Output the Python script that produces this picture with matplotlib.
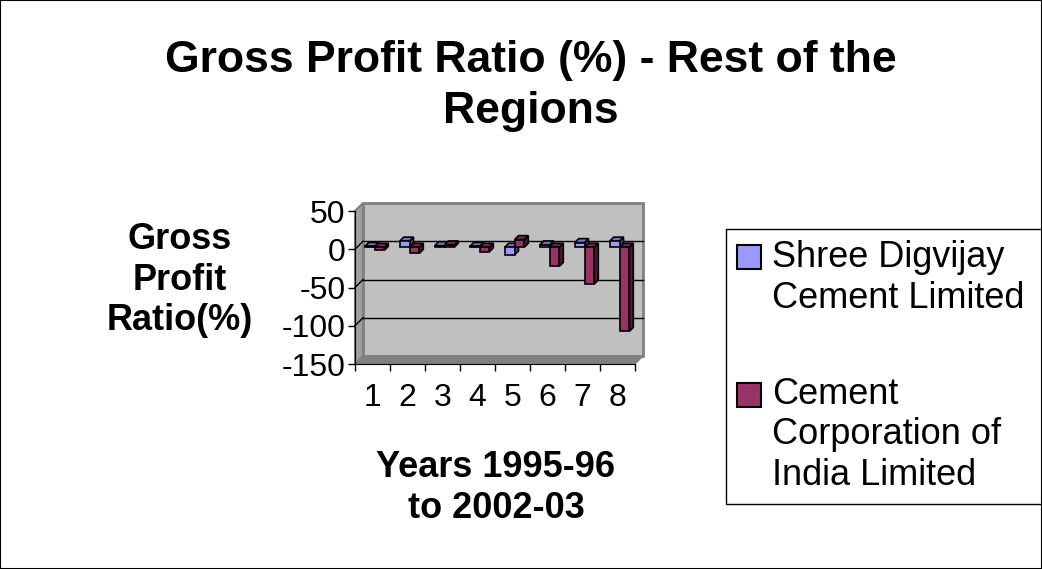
import matplotlib
matplotlib.use("Agg")
from matplotlib import pyplot as plt
from matplotlib.patches import Rectangle, Polygon
import numpy as np

plt.rcParams['font.family'] = ['Liberation Sans', 'DejaVu Sans']
plt.rcParams['axes.unicode_minus'] = False

years = [1, 2, 3, 4, 5, 6, 7, 8]
shree = [1, 8, 2, 1, -10, 3, 6, 8]
cci = [-4, -8, 3, -6, 10, -25, -48, -110]
names = ["Shree Digvijay\nCement Limited", "Cement\nCorporation of\nIndia Limited"]
colors = ["#9999ff", "#993366"]
sides = ["#4d4d80", "#4d1a33"]
tops = ["#7373bf", "#73264d"]

W, H = 1042, 569
fig = plt.figure(figsize=(W / 100, H / 100), dpi=100)
fig.patches.append(Rectangle((0, 0), 1, 1, transform=fig.transFigure,
                             fill=False, edgecolor="black", linewidth=1.5))

# 绘图区 (前面)
ax = fig.add_axes([355 / W, 1 - 364 / H, 280 / W, 153 / H])
ax.set_xlim(0.5, 8.5)
ax.set_ylim(-150, 50)
ax.patch.set_alpha(0)

# 像素 -> 数据单位
px_x = 8 / 280
px_y = 200 / 153
dxw, dyw = 8 * px_x, 8 * px_y  # 后墙偏移

# 后墙、侧墙、底面
x0, x1, y0, y1 = 0.5, 8.5, -150, 50
ax.add_patch(Polygon([(x0, y0), (x0 + dxw, y0 + dyw), (x0 + dxw, y1 + dyw), (x0, y1)],
                     closed=True, facecolor="#a0a0a0", edgecolor="#808080", lw=1.5,
                     clip_on=False, zorder=0))
ax.add_patch(Rectangle((x0 + dxw, y0 + dyw), x1 - x0, y1 - y0, facecolor="#c0c0c0",
                       edgecolor="#808080", lw=2, clip_on=False, zorder=0))
ax.add_patch(Polygon([(x0, y0), (x1, y0), (x1 + dxw, y0 + dyw), (x0 + dxw, y0 + dyw)],
                     closed=True, facecolor="#808080", edgecolor="#808080", lw=1,
                     clip_on=False, zorder=0))
# 网格线
for g in [0, -50, -100]:
    ax.plot([x0 + dxw, x1 + dxw], [g + dyw, g + dyw], color="black", lw=1,
            clip_on=False, zorder=1)
    ax.plot([x0, x0 + dxw], [g, g + dyw], color="black", lw=1, clip_on=False, zorder=1)

# 柱子 (3D效果)
w = 0.28
ox, oy = 4 * px_x, 4 * px_y
sx, sy = 2 * px_x, 2 * px_y
for k, vals in enumerate([shree, cci]):
    xs = np.array(years) + (w / 2 if k else -w / 2) + sx
    for xc, v in zip(xs, vals):
        l, r = xc - w / 2, xc + w / 2
        hi = max(sy, v + sy)
        lo = min(sy, v + sy)
        ax.add_patch(Polygon([(r, lo), (r + ox, lo + oy), (r + ox, hi + oy), (r, hi)],
                             closed=True, facecolor=sides[k], edgecolor="black", lw=1.2, zorder=3))
        ax.add_patch(Polygon([(l, hi), (r, hi), (r + ox, hi + oy), (l + ox, hi + oy)],
                             closed=True, facecolor=tops[k], edgecolor="black", lw=1.2, zorder=3))
    ax.bar(xs, np.array(vals), w, bottom=sy, color=colors[k], edgecolor="black",
           linewidth=1.2, zorder=4)

ax.set_yticks([50, 0, -50, -100, -150])
ax.set_xticks(np.arange(0.5, 9, 1))
ax.set_xticklabels([])
ax.set_xticks(years, minor=True)
ax.set_xticklabels([str(y) for y in years], minor=True)
ax.tick_params(axis="x", which="minor", length=0, labelsize=23, pad=14)
ax.tick_params(axis="x", which="major", length=5, width=1)
ax.tick_params(axis="y", labelsize=23, length=5, width=1, pad=2)
for s in ["top", "right"]:
    ax.spines[s].set_visible(False)
for s in ["left", "bottom"]:
    ax.spines[s].set_color("black")
    ax.spines[s].set_zorder(5)

# 设置标题和轴名称
fig.text(0.509, 1 - 86 / H, "Gross Profit Ratio (%) - Rest of the\nRegions", ha="center",
         va="center", fontsize=32, fontweight="bold", linespacing=1.3)
fig.text(180 / W, 1 - 280 / H, "Gross\nProfit\nRatio(%)", ha="center", va="center",
         fontsize=26, fontweight="bold", linespacing=1.22)
fig.text(496 / W, 1 - 488 / H, "Years 1995-96\nto 2002-03", ha="center", va="center",
         fontsize=26, fontweight="bold", linespacing=1.25)

# 图例
fig.patches.append(Rectangle((726 / W, 1 - 504 / H), 316 / W, 275 / H,
                             transform=fig.transFigure, fill=False,
                             edgecolor="black", linewidth=1))
for k, (nm, yc, ysq) in enumerate(zip(names, [278, 435], [257, 395])):
    fig.patches.append(Rectangle((737 / W, 1 - (ysq + 12) / H), 24 / W, 24 / H,
                                 transform=fig.transFigure, facecolor=colors[k],
                                 edgecolor="black", linewidth=1.5))
    fig.text(772 / W, 1 - yc / H, nm, ha="left", va="center", fontsize=26,
             linespacing=1.22)

plt.savefig("out.png")
